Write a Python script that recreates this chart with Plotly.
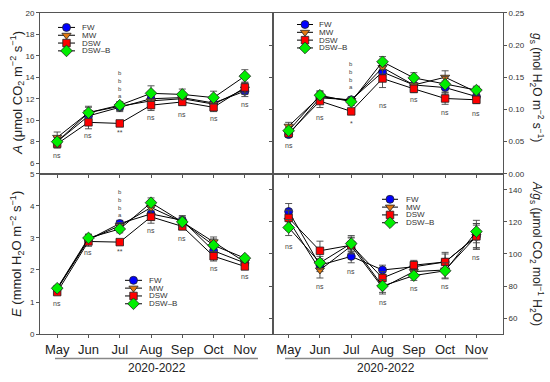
import plotly.graph_objects as go

# ---------------- data ----------------
months = ["May", "Jun", "Jul", "Aug", "Sep", "Oct", "Nov"]
series = ["FW", "MW", "DSW", "DSW–B"]

A_FW = [8.0, 10.4, 11.2, 12.0, 12.1, 11.6, 12.7]
A_MW = [8.4, 10.7, 11.3, 11.8, 12.0, 11.5, 12.9]
A_DSW = [7.8, 9.8, 9.7, 11.4, 11.7, 11.2, 13.05]
A_DSWB = [8.0, 10.7, 11.4, 12.5, 12.4, 12.1, 14.1]
A_FW_err = [0.4, 0.5, 0.4, 0.5, 0.4, 0.5, 0.5]
A_MW_err = [0.5, 0.6, 0.4, 0.5, 0.4, 0.5, 0.5]
A_DSW_err = [0.4, 0.6, 0.2, 0.5, 0.3, 0.4, 0.5]
A_DSWB_err = [0.4, 0.5, 0.3, 0.7, 0.5, 0.6, 0.6]

gs_FW = [0.061, 0.118, 0.115, 0.158, 0.138, 0.134, 0.120]
gs_MW = [0.074, 0.120, 0.114, 0.165, 0.138, 0.150, 0.127]
gs_DSW = [0.063, 0.113, 0.097, 0.148, 0.132, 0.117, 0.115]
gs_DSWB = [0.067, 0.122, 0.112, 0.174, 0.149, 0.139, 0.130]
gs_FW_err = [0.004, 0.008, 0.004, 0.010, 0.008, 0.010, 0.006]
gs_MW_err = [0.006, 0.008, 0.005, 0.010, 0.007, 0.010, 0.007]
gs_DSW_err = [0.004, 0.010, 0.004, 0.014, 0.006, 0.009, 0.006]
gs_DSWB_err = [0.005, 0.007, 0.006, 0.008, 0.008, 0.012, 0.006]

E_FW = [1.42, 2.95, 3.45, 3.75, 3.55, 2.60, 2.22]
E_MW = [1.40, 2.95, 3.38, 3.95, 3.50, 2.88, 2.25]
E_DSW = [1.31, 2.89, 2.87, 3.66, 3.36, 2.43, 2.11]
E_DSWB = [1.43, 3.00, 3.28, 4.10, 3.50, 2.77, 2.37]
E_FW_err = [0.08, 0.15, 0.10, 0.20, 0.15, 0.15, 0.10]
E_MW_err = [0.08, 0.15, 0.10, 0.18, 0.15, 0.15, 0.10]
E_DSW_err = [0.06, 0.15, 0.08, 0.20, 0.10, 0.15, 0.08]
E_DSWB_err = [0.08, 0.12, 0.12, 0.15, 0.15, 0.20, 0.08]

Ag_FW = [126.5, 93.0, 98.5, 90.0, 92.0, 95.0, 111.0]
Ag_MW = [121.0, 90.0, 105.0, 79.0, 89.0, 90.0, 111.0]
Ag_DSW = [122.5, 102.0, 105.5, 85.0, 93.0, 95.0, 111.0]
Ag_DSWB = [116.5, 94.5, 106.5, 80.0, 86.5, 89.5, 114.0]
Ag_FW_err = [5, 4, 4, 3, 3, 5, 7]
Ag_MW_err = [6, 5, 5, 4, 3, 5, 8]
Ag_DSW_err = [5, 6, 5, 4, 3, 6, 8]
Ag_DSWB_err = [5, 4, 5, 4, 3, 5, 7]

# significance labels: (month, y, text); the Jul letter groups are stacked
A_sig = [("May", 6.75, "ns"), ("Jun", 8.55, "ns"), ("Jul", 8.9, "**"),
         ("Jul", 13.3, "b<br>b<br>b<br>a"),
         ("Aug", 10.27, "ns"), ("Sep", 10.55, "ns"), ("Oct", 10.18, "ns"), ("Nov", 11.45, "ns")]
gs_sig = [("May", 0.044, "ns"), ("Jun", 0.088, "ns"), ("Jul", 0.078, "*"),
          ("Jul", 0.1525, "b<br>b<br>b<br>a"),
          ("Aug", 0.106, "ns"), ("Sep", 0.116, "ns"), ("Oct", 0.096, "ns"), ("Nov", 0.094, "ns")]
E_sig = [("May", 0.95, "ns"), ("Jun", 2.55, "ns"), ("Jul", 2.58, "**"),
         ("Jul", 4.09, "b<br>b<br>b<br>a"),
         ("Aug", 3.22, "ns"), ("Sep", 2.97, "ns"), ("Oct", 2.05, "ns"), ("Nov", 1.79, "ns")]
Ag_sig = [("May", 104.6, "ns"), ("Jun", 80.0, "ns"), ("Jul", 88.8, "ns"),
          ("Aug", 69.7, "ns"), ("Sep", 78.6, "ns"), ("Oct", 79.8, "ns"), ("Nov", 97.5, "ns")]

# ---------------- styles ----------------
W, H = 550, 382
colors = ["#0000ff", "#e07810", "#ff0000", "#00ee00"]
symbols = ["circle", "triangle-down", "square", "diamond"]
msizes = [8, 8, 7.5, 9]
AX = "#555555"
FONT = "Liberation Sans, Arial, sans-serif"

def px(x):
    return x / W

def py(y):
    return 1 - y / H

fig = go.Figure()

panels = [
    ("x", "y", [A_FW, A_MW, A_DSW, A_DSWB], [A_FW_err, A_MW_err, A_DSW_err, A_DSWB_err], A_sig),
    ("x2", "y2", [gs_FW, gs_MW, gs_DSW, gs_DSWB], [gs_FW_err, gs_MW_err, gs_DSW_err, gs_DSWB_err], gs_sig),
    ("x3", "y3", [E_FW, E_MW, E_DSW, E_DSWB], [E_FW_err, E_MW_err, E_DSW_err, E_DSWB_err], E_sig),
    ("x4", "y4", [Ag_FW, Ag_MW, Ag_DSW, Ag_DSWB], [Ag_FW_err, Ag_MW_err, Ag_DSW_err, Ag_DSWB_err], Ag_sig),
]

annotations = []
for xa, ya, vals, errs, sig in panels:
    for i in range(4):
        fig.add_trace(go.Scatter(
            x=months, y=vals[i], xaxis=xa, yaxis=ya, mode="lines+markers",
            line=dict(color="black", width=1),
            marker=dict(symbol=symbols[i], size=msizes[i], color=colors[i],
                        line=dict(color="#222", width=0.8)),
            error_y=dict(type="data", array=errs[i], visible=True,
                         color="#444", thickness=0.9, width=3.5),
            showlegend=False, name=series[i]))
    for m, yv, t in sig:
        stacked = "<br>" in t
        annotations.append(dict(x=m, y=yv, xref=xa, yref=ya, text=t, showarrow=False,
                                xanchor="center", yanchor="middle",
                                font=dict(size=6 if stacked else 7, color="#444", family=FONT)))

# ---------------- custom compact legends (overlay pixel axis) ----------------
legends = [
    (58, 75, 80, [24, 32, 40, 48]),
    (297, 313, 317, [21, 29, 37, 45]),
    (125, 142, 147, [283, 291, 299, 307]),
    (382, 398, 404, [200, 208, 216, 224]),
]
for x0, x1, xt, rows in legends:
    for i in range(4):
        fig.add_trace(go.Scatter(x=[x0, x1], y=[rows[i], rows[i]], xaxis="x5", yaxis="y5",
                                 mode="lines", line=dict(color="black", width=1),
                                 showlegend=False, hoverinfo="skip"))
        fig.add_trace(go.Scatter(x=[(x0 + x1) / 2], y=[rows[i]], xaxis="x5", yaxis="y5",
                                 mode="markers",
                                 marker=dict(symbol=symbols[i], size=msizes[i], color=colors[i],
                                             line=dict(color="#222", width=0.8)),
                                 showlegend=False, hoverinfo="skip"))
        annotations.append(dict(x=xt, y=rows[i], xref="x5", yref="y5", text=series[i],
                                showarrow=False, xanchor="left", yanchor="middle",
                                font=dict(size=8, color="#333", family=FONT)))

# ---------------- axis titles ----------------
def ptext(x, y, text, size, angle=0):
    return dict(x=px(x), y=py(y), xref="paper", yref="paper", textangle=angle, showarrow=False,
                xanchor="center", yanchor="middle", text=text,
                font=dict(size=size, color="#222", family=FONT))

annotations += [
    ptext(17, 91, "<i>A</i> (μmol CO<sub>2</sub> m<sup>−2</sup> s<sup>−1</sup>)", 13, -90),
    ptext(17, 256, "<i>E</i> (mmol H<sub>2</sub>O m<sup>−2</sup> s<sup>−1</sup>)", 13, -90),
    ptext(537, 85, "<i>g</i><sub>s</sub> (mol H<sub>2</sub>O m<sup>−2</sup> s<sup>−1</sup>)", 12, 90),
    ptext(537, 255, "<i>A/g</i><sub>s</sub> (μmol CO<sub>2</sub> mol<sup>−1</sup> H<sub>2</sub>O)", 12, 90),
    ptext(157, 373, "2020-2022", 12),
    ptext(386, 373, "2020-2022", 12),
]

shapes = [
    dict(type="line", xref="paper", yref="paper", x0=px(55), x1=px(258), y0=py(363), y1=py(363),
         line=dict(color="#888", width=1.5)),
    dict(type="line", xref="paper", yref="paper", x0=px(285), x1=px(488), y0=py(363), y1=py(363),
         line=dict(color="#888", width=1.5)),
]

xl = [px(40), px(273)]
xr = [px(273), px(503)]
yt = [py(174), py(9)]
yb = [py(338), py(174)]

base = dict(showline=True, linecolor=AX, linewidth=1, showgrid=False, zeroline=False,
            ticks="outside", ticklen=3, tickcolor=AX, tickwidth=1,
            tickfont=dict(size=8, color="#333", family=FONT))
xbase = dict(base, type="category", categoryorder="array", categoryarray=months, mirror=True)

fig.update_layout(
    width=W, height=H, margin=dict(l=0, r=0, t=0, b=0),
    paper_bgcolor="white", plot_bgcolor="rgba(0,0,0,0)",
    showlegend=False,
    xaxis=dict(xbase, domain=xl, anchor="y", range=[-0.55, 6.9], showticklabels=False),
    yaxis=dict(base, domain=yt, anchor="x", range=[5, 20], tickvals=[5, 6, 8, 10, 12, 14, 16, 18, 20],
               mirror=True),
    xaxis2=dict(xbase, domain=xr, anchor="y2", range=[-0.5, 6.85], showticklabels=False),
    yaxis2=dict(base, domain=yt, anchor="x2", side="right", range=[0, 0.25],
                tickvals=[0, 0.05, 0.10, 0.15, 0.20, 0.25], tickformat=".2f", mirror="ticks"),
    xaxis3=dict(xbase, domain=xl, anchor="y3", range=[-0.55, 6.9],
                tickfont=dict(size=13, color="#222", family=FONT)),
    yaxis3=dict(base, domain=yb, anchor="x3", range=[0, 5], tickvals=[0, 1, 2, 3, 4], mirror=True),
    xaxis4=dict(xbase, domain=xr, anchor="y4", range=[-0.5, 6.85],
                tickfont=dict(size=13, color="#222", family=FONT)),
    yaxis4=dict(base, domain=yb, anchor="x4", side="right", range=[50, 150],
                tickvals=[60, 80, 100, 120, 140], mirror="ticks"),
    xaxis5=dict(domain=[0, 1], range=[0, W], visible=False, fixedrange=True, anchor="y5"),
    yaxis5=dict(domain=[0, 1], range=[H, 0], visible=False, fixedrange=True, anchor="x5"),
    annotations=annotations, shapes=shapes,
    font=dict(family=FONT),
)

fig.write_html("out.html", config={"displayModeBar": False},
               post_script="document.body.style.margin='0';document.body.style.overflow='hidden';")
